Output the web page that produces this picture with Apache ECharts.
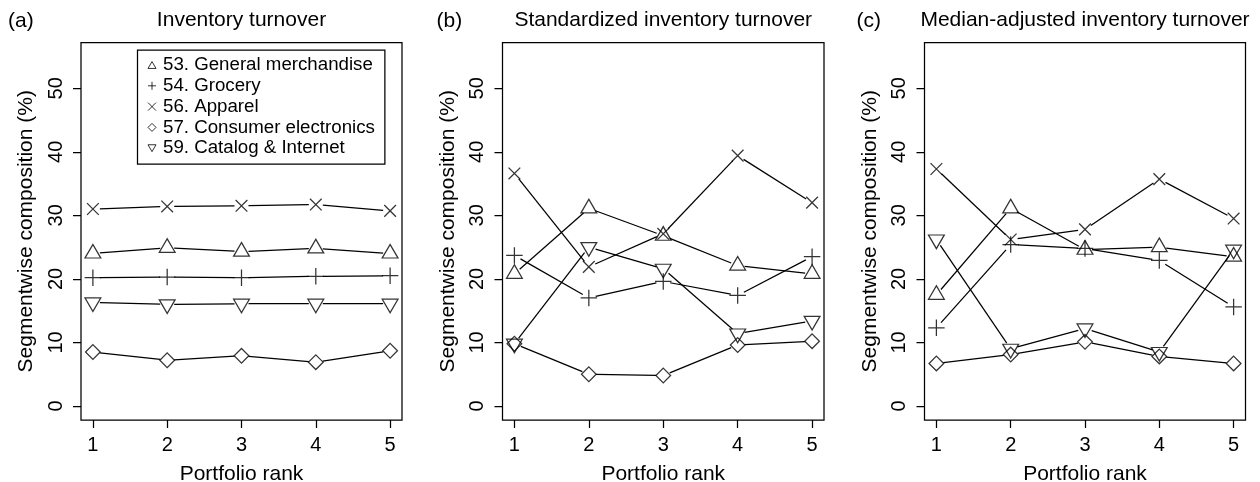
<!DOCTYPE html>
<html>
<head>
<meta charset="utf-8">
<script src="https://cdn.jsdelivr.net/npm/echarts@6/dist/echarts.min.js"></script>
<style>
html,body{margin:0;padding:0;background:#fff;}
#chart{width:1260px;height:482px;}
</style>
</head>
<body>
<div id="chart"></div>
<script>
const ranks = [1, 2, 3, 4, 5];
const yTicks = [0, 10, 20, 30, 40, 50];
const segmentNames = ['53. General merchandise', '54. Grocery', '56. Apparel', '57. Consumer electronics', '59. Catalog & Internet'];
const panelLabels = ['(a)', '(b)', '(c)'];
const panelTitles = ['Inventory turnover', 'Standardized inventory turnover', 'Median-adjusted inventory turnover'];
const xAxisTitle = 'Portfolio rank';
const yAxisTitle = 'Segmentwise composition (%)';

// (a) Inventory turnover
const invGeneral     = [24.0, 24.9, 24.3, 24.8, 24.0];
const invGrocery     = [20.2, 20.3, 20.2, 20.4, 20.5];
const invApparel     = [31.0, 31.4, 31.5, 31.7, 30.7];
const invElectronics = [8.5, 7.2, 7.9, 6.9, 8.7];
const invCatalog     = [16.3, 16.0, 16.1, 16.1, 16.1];

// (b) Standardized inventory turnover
const stdGeneral     = [20.8, 31.1, 26.8, 22.1, 20.8];
const stdGrocery     = [23.7, 17.0, 19.6, 17.4, 23.5];
const stdApparel     = [36.6, 21.9, 27.1, 39.4, 32.0];
const stdElectronics = [9.8, 5.0, 4.8, 9.6, 10.2];
const stdCatalog     = [9.8, 25.0, 21.6, 11.4, 13.4];

// (c) Median-adjusted inventory turnover
const medGeneral     = [17.5, 31.1, 24.6, 25.0, 23.5];
const medGrocery     = [12.3, 25.4, 24.8, 22.9, 15.6];
const medApparel     = [37.3, 26.2, 27.8, 35.7, 29.5];
const medElectronics = [6.7, 8.1, 10.1, 7.8, 6.7];
const medCatalog     = [26.2, 9.0, 12.2, 8.5, 24.6];

const panels = [
  [invGeneral, invGrocery, invApparel, invElectronics, invCatalog],
  [stdGeneral, stdGrocery, stdApparel, stdElectronics, stdCatalog],
  [medGeneral, medGrocery, medApparel, medElectronics, medCatalog]
];

const FONT = "'Liberation Sans', Arial, Helvetica, sans-serif";
const LW = 1.25;
const gridBoxes = [
  {left: 81, top: 42.5, width: 321, height: 377.5},
  {left: 502.5, top: 42.5, width: 321.5, height: 377.5},
  {left: 924.5, top: 42.5, width: 321, height: 377.5}
];
const labelLefts = [8, 436.5, 856.5];

// symbol styles (R pch 2, 3, 4, 5, 6)
const TW = 15.8, TH = 13.6;
const symbolDefs = [
  {symbol: 'path://M7.9,0L15.8,13.6L0,13.6Z', symbolSize: [TW, TH], symbolOffset: [0, -TH / 6]},
  {symbol: 'path://M0,8L16,8M8,0L8,16', symbolSize: 16.5, symbolOffset: [0, 0]},
  {symbol: 'path://M0,0L12,12M12,0L0,12', symbolSize: 11.7, symbolOffset: [0, 0]},
  {symbol: 'path://M7,0L14,7L7,14L0,7Z', symbolSize: 14.7, symbolOffset: [0, 0]},
  {symbol: 'path://M0,0L15.8,0L7.9,13.6Z', symbolSize: [TW, TH], symbolOffset: [0, TH / 6]}
];

const GAP = 7;
function gapRenderer(vals) {
  return function (params, api) {
    const i = params.dataIndex;
    if (i >= vals.length - 1) return null;
    const p0 = api.coord([ranks[i], vals[i]]);
    const p1 = api.coord([ranks[i + 1], vals[i + 1]]);
    const dx = p1[0] - p0[0], dy = p1[1] - p0[1];
    const len = Math.sqrt(dx * dx + dy * dy);
    if (len <= 2 * GAP) return null;
    const ux = dx / len, uy = dy / len;
    return {
      type: 'line',
      shape: {x1: p0[0] + ux * GAP, y1: p0[1] + uy * GAP, x2: p1[0] - ux * GAP, y2: p1[1] - uy * GAP},
      style: {stroke: '#000', lineWidth: LW}
    };
  };
}

const grids = [], xAxes = [], yAxes = [], series = [], titles = [];
panels.forEach((panel, p) => {
  grids.push(Object.assign({show: true, borderColor: '#000', borderWidth: LW, backgroundColor: 'transparent',
    containLabel: false, outerBoundsMode: 'none'}, gridBoxes[p]));
  xAxes.push({
    gridIndex: p, type: 'value', min: 0.84, max: 5.16, position: 'bottom',
    axisLine: {show: false, onZero: false}, splitLine: {show: false},
    axisTick: {show: true, length: 8, customValues: ranks, lineStyle: {color: '#000', width: LW}},
    axisLabel: {customValues: ranks, fontSize: 20, color: '#000', fontFamily: FONT, margin: 15},
    name: xAxisTitle, nameLocation: 'middle', nameGap: 44,
    nameTextStyle: {fontSize: 21, color: '#000', fontFamily: FONT}
  });
  yAxes.push({
    gridIndex: p, type: 'value', min: -2.2, max: 57.2, position: 'left',
    axisLine: {show: false, onZero: false}, splitLine: {show: false},
    axisTick: {show: true, length: 8, customValues: yTicks, lineStyle: {color: '#000', width: LW}},
    axisLabel: {customValues: yTicks, rotate: 90, fontSize: 20, color: '#000', fontFamily: FONT, margin: 15},
    name: yAxisTitle, nameLocation: 'middle', nameGap: 44, nameRotate: 90,
    nameTextStyle: {fontSize: 21, color: '#000', fontFamily: FONT}
  });
  titles.push({
    text: panelLabels[p], left: labelLefts[p], top: 11, padding: 0,
    textStyle: {fontSize: 21, fontWeight: 'normal', color: '#000', fontFamily: FONT}
  });
  titles.push({
    text: panelTitles[p], left: gridBoxes[p].left + gridBoxes[p].width / 2, top: 10, padding: 0, textAlign: 'center',
    textStyle: {fontSize: 21, fontWeight: 'normal', color: '#000', fontFamily: FONT}
  });
  panel.forEach((vals, s) => {
    series.push(Object.assign({
      type: 'scatter', name: segmentNames[s], xAxisIndex: p, yAxisIndex: p,
      data: ranks.map((r, i) => [r, vals[i]]),
      itemStyle: {color: 'rgba(0,0,0,0)', borderColor: '#000', borderWidth: LW},
      emphasis: {disabled: true}, z: 3
    }, symbolDefs[s]));
  });
});
panels.forEach((panel, p) => {
  panel.forEach((vals, s) => {
    series.push({
      type: 'custom', xAxisIndex: p, yAxisIndex: p,
      data: ranks.map((r, i) => [r, vals[i]]),
      encode: {x: 0, y: 1},
      renderItem: gapRenderer(vals),
      silent: true, z: 2
    });
  });
});

const chart = echarts.init(document.getElementById('chart'), null, {renderer: 'canvas'});
chart.setOption({
  animation: false,
  backgroundColor: '#fff',
  title: titles,
  grid: grids,
  xAxis: xAxes,
  yAxis: yAxes,
  legend: {
    data: segmentNames,
    orient: 'vertical', left: 137.5, top: 50,
    padding: [5, 10, 6, 10],
    itemGap: 0.8, itemWidth: 8, itemHeight: 8,
    borderColor: '#000', borderWidth: LW, backgroundColor: '#fff',
    selectedMode: false,
    itemStyle: {color: 'rgba(0,0,0,0)', borderColor: '#000', borderWidth: 1},
    textStyle: {fontSize: 18.7, color: '#000', fontFamily: FONT, lineHeight: 20, padding: [0, 0, 0, 2]}
  },
  series: series
});
</script>
</body>
</html>
